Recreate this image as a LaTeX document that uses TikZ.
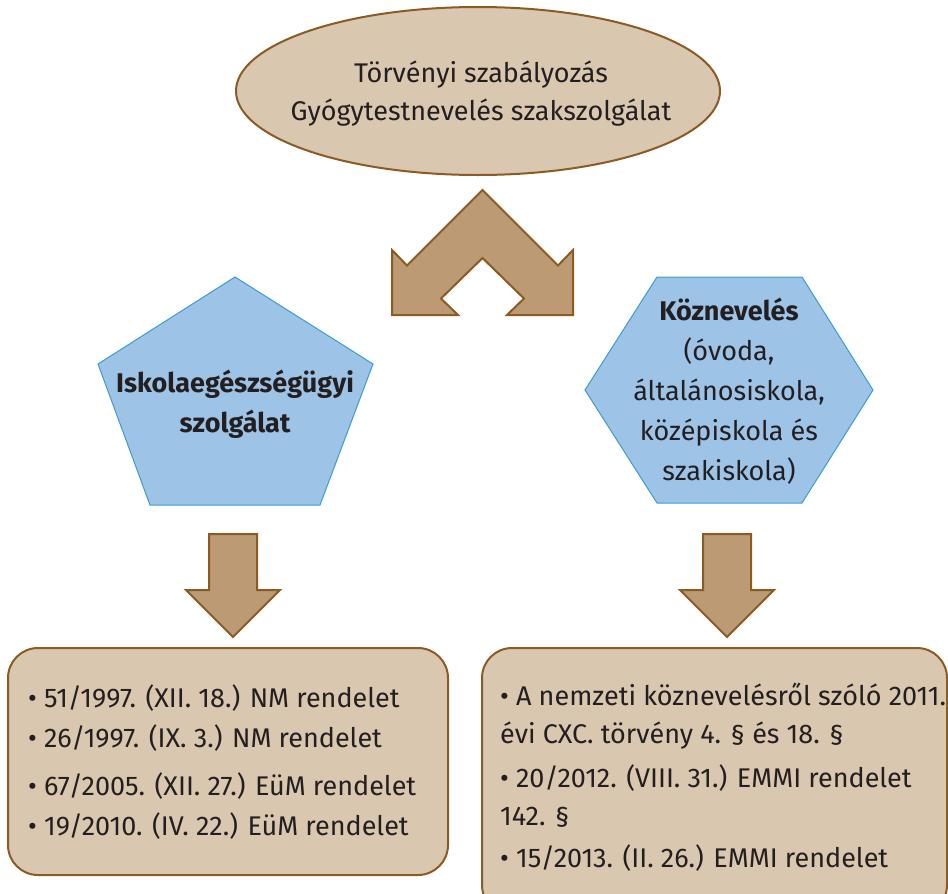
\documentclass[tikz,border=0pt]{standalone}
\usepackage{fontspec}
\setmainfont{Fira Sans}
\usetikzlibrary{shapes.geometric}
\definecolor{tanfill}{HTML}{D9C7B0}
\definecolor{brownline}{HTML}{8C5A23}
\definecolor{arrowfill}{HTML}{BB9A74}
\definecolor{bluefill}{HTML}{9DC3E6}
\definecolor{blueline}{HTML}{3D9BD4}
\definecolor{ink}{HTML}{231F20}
\newcommand\bodysize{\fontsize{27}{38}\selectfont}
\tikzset{
  tanshape/.style={draw=brownline, fill=tanfill, line width=2pt},
  blockarrow/.style={draw=brownline, fill=arrowfill, line width=2pt, line join=miter},
  blueshape/.style={draw=blueline, fill=bluefill, line width=1pt},
  txt/.style={anchor=base, text=ink, inner sep=0pt},
  btxt/.style={txt, font=\bodysize\bfseries},
  ltxt/.style={anchor=base west, text=ink, inner sep=0pt},
}
\begin{document}
\begin{tikzpicture}[x=1pt, y=-1pt, font=\bodysize]
\useasboundingbox (0,0) rectangle (948,894);
\clip (0,0) rectangle (948,894);

% top ellipse
\node[tanshape, ellipse, minimum width=484pt, minimum height=168pt] (law) at (478,91) {};
\node[txt] (law1) at (481,82) {Törvényi szabályozás};
\node[txt] (law2) at (481,120) {Gyógytestnevelés szakszolgálat};

% double chevron arrow
\draw[blockarrow] (482.5,190) -- (558,265.5) -- (573,250) -- (573,315) -- (507,315)
  -- (524,298.5) -- (482.5,258) -- (441,298.5) -- (458,315) -- (392,315)
  -- (392,250) -- (407,265.5) -- cycle;

% pentagon
\draw[blueshape] (235,277) -- (373,364) -- (320,505) -- (150,505) -- (98,364) -- cycle;
\node[btxt] (pen1) at (235,392) {Iskolaegészségügyi};
\node[btxt] (pen2) at (235,432) {szolgálat};

% hexagon
\draw[blueshape] (657,277) -- (802,277) -- (873,390) -- (802,503) -- (657,503) -- (585,390) -- cycle;
\node[btxt] (hex1) at (729,320) {Köznevelés};
\node[txt] (hex2) at (729,360) {(óvoda,};
\node[txt] (hex3) at (729,400) {általánosiskola,};
\node[txt] (hex4) at (729,440) {középiskola és};
\node[txt] (hex5) at (729,480) {szakiskola)};

% down arrows
\draw[blockarrow] (209,534) -- (257,534) -- (257,590) -- (280,590) -- (233,637)
  -- (186,590) -- (209,590) -- cycle;
\draw[blockarrow] (703,534) -- (751,534) -- (751,590) -- (774,590) -- (727,637)
  -- (680,590) -- (703,590) -- cycle;

% left box
\draw[tanshape, rounded corners=30pt] (8,648) rectangle (448,875);
\node[ltxt] (l1) at (28,707) {\textbullet\ 51/1997. (XII. 18.) NM rendelet};
\node[ltxt] (l2) at (28,747) {\textbullet\ 26/1997. (IX. 3.) NM rendelet};
\node[ltxt] (l3) at (28,795) {\textbullet\ 67/2005. (XII. 27.) EüM rendelet};
\node[ltxt] (l4) at (28,835) {\textbullet\ 19/2010. (IV. 22.) EüM rendelet};

% right box
\draw[tanshape, rounded corners=30pt] (482,648) rectangle (947,915);
\node[ltxt] (r1) at (500,705) {\textbullet\ A nemzeti köznevelésről szóló 2011.};
\node[ltxt] (r2) at (500,743) {évi CXC. törvény 4. \S\ és 18. \S};
\node[ltxt] (r3) at (500,787) {\textbullet\ 20/2012. (VIII. 31.) EMMI rendelet};
\node[ltxt] (r4) at (500,825) {142. \S};
\node[ltxt] (r5) at (500,867) {\textbullet\ 15/2013. (II. 26.) EMMI rendelet};
\end{tikzpicture}
\end{document}
